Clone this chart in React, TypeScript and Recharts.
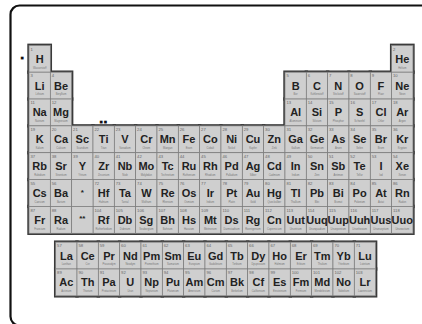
import { Scatter, ScatterChart, XAxis, YAxis } from "recharts";

// Elements in atomic order, with their German names
const SYMBOLS = [
  "H", "He",
  "Li", "Be", "B", "C", "N", "O", "F", "Ne",
  "Na", "Mg", "Al", "Si", "P", "S", "Cl", "Ar",
  "K", "Ca", "Sc", "Ti", "V", "Cr", "Mn", "Fe", "Co", "Ni", "Cu", "Zn", "Ga", "Ge", "As", "Se", "Br", "Kr",
  "Rb", "Sr", "Y", "Zr", "Nb", "Mo", "Tc", "Ru", "Rh", "Pd", "Ag", "Cd", "In", "Sn", "Sb", "Te", "I", "Xe",
  "Cs", "Ba", "La", "Ce", "Pr", "Nd", "Pm", "Sm", "Eu", "Gd", "Tb", "Dy", "Ho", "Er", "Tm", "Yb", "Lu",
  "Hf", "Ta", "W", "Re", "Os", "Ir", "Pt", "Au", "Hg", "Tl", "Pb", "Bi", "Po", "At", "Rn",
  "Fr", "Ra", "Ac", "Th", "Pa", "U", "Np", "Pu", "Am", "Cm", "Bk", "Cf", "Es", "Fm", "Md", "No", "Lr",
  "Rf", "Db", "Sg", "Bh", "Hs", "Mt", "Ds", "Rg", "Cn", "Uut", "Uuq", "Uup", "Uuh", "Uus", "Uuo",
];

const NAMES = [
  "Wasserstoff", "Helium",
  "Lithium", "Beryllium", "Bor", "Kohlenstoff", "Stickstoff", "Sauerstoff", "Fluor", "Neon",
  "Natrium", "Magnesium", "Aluminium", "Silicium", "Phosphor", "Schwefel", "Chlor", "Argon",
  "Kalium", "Calcium", "Scandium", "Titan", "Vanadium", "Chrom", "Mangan", "Eisen", "Cobalt", "Nickel",
  "Kupfer", "Zink", "Gallium", "Germanium", "Arsen", "Selen", "Brom", "Krypton",
  "Rubidium", "Strontium", "Yttrium", "Zirconium", "Niob", "Molybdän", "Technetium", "Ruthenium",
  "Rhodium", "Palladium", "Silber", "Cadmium", "Indium", "Zinn", "Antimon", "Tellur", "Iod", "Xenon",
  "Caesium", "Barium", "Lanthan", "Cer", "Praseodym", "Neodym", "Promethium", "Samarium", "Europium",
  "Gadolinium", "Terbium", "Dysprosium", "Holmium", "Erbium", "Thulium", "Ytterbium", "Lutetium",
  "Hafnium", "Tantal", "Wolfram", "Rhenium", "Osmium", "Iridium", "Platin", "Gold", "Quecksilber",
  "Thallium", "Blei", "Bismut", "Polonium", "Astat", "Radon",
  "Francium", "Radium", "Actinium", "Thorium", "Protactinium", "Uran", "Neptunium", "Plutonium",
  "Americium", "Curium", "Berkelium", "Californium", "Einsteinium", "Fermium", "Mendelevium",
  "Nobelium", "Lawrencium",
  "Rutherfordium", "Dubnium", "Seaborgium", "Bohrium", "Hassium", "Meitnerium", "Darmstadtium",
  "Roentgenium", "Copernicium", "Ununtrium", "Ununquadium", "Ununpentium", "Ununhexium",
  "Ununseptium", "Ununoctium",
];

// last atomic number of each period
const PERIOD_ENDS = [2, 10, 18, 36, 54, 86, 118];
// column where the La/Ac block starts (in cell units)
const F_BLOCK_START = 1.25;
const F_BLOCK_ROW = 7.33;

// placeholder cells in group 3 and loose markers
const PLACEHOLDERS = [
  { label: "*", period: 6 },
  { label: "**", period: 7 },
];
const MARKERS = [
  { label: "■", col: -0.3, row: 0.47 },
  { label: "■■", col: 3.5, row: 2.85 },
];

type Cell = { x: number; y: number; num?: number; symbol: string; name?: string };

function layout(): Cell[] {
  const cells: Cell[] = [];
  let start = 1;
  PERIOD_ENDS.forEach((end, p) => {
    for (let z = start; z <= end; z++) {
      const i = z - start;
      let col = 0;
      let row = p;
      if (p === 0) col = z === 1 ? 0 : 17;
      else if (p < 3) col = i < 2 ? i : i + 10;
      else if (p < 5) col = i;
      else if (i < 2) col = i;
      else if (i <= 16) {
        col = F_BLOCK_START + (i - 2);
        row = F_BLOCK_ROW + (p - 5);
      } else col = i - 14;
      cells.push({ x: col + 0.5, y: row + 0.5, num: z, symbol: SYMBOLS[z - 1], name: NAMES[z - 1] });
    }
    start = end + 1;
  });
  PLACEHOLDERS.forEach((ph) => cells.push({ x: 2.5, y: ph.period - 0.5, symbol: ph.label }));
  return cells;
}

const CELLS = layout();
const MARKER_DATA = MARKERS.map((m) => ({ x: m.col, y: m.row, symbol: m.label }));

const WIDTH = 422;
const HEIGHT = 324;
const MARGIN = { top: 5.05, right: 0.5, bottom: 4.8, left: 2.34 };
const X_DOMAIN = [-1.25, 18.4];
const Y_DOMAIN = [-1.5, 10.2];
const CELL_W = (WIDTH - MARGIN.left - MARGIN.right) / (X_DOMAIN[1] - X_DOMAIN[0]);
const CELL_H = (HEIGHT - MARGIN.top - MARGIN.bottom) / (Y_DOMAIN[1] - Y_DOMAIN[0]);

const FONT = "'Liberation Sans', Arial, sans-serif";

function OutlineShape(props: any) {
  const { cx, cy } = props;
  return (
    <rect
      x={cx - CELL_W / 2}
      y={cy - CELL_H / 2}
      width={CELL_W}
      height={CELL_H}
      fill="#3a3a3a"
      stroke="#3a3a3a"
      strokeWidth={3.4}
    />
  );
}

function ElementShape(props: any) {
  const { cx, cy, payload } = props;
  const left = cx - CELL_W / 2;
  const top = cy - CELL_H / 2;
  const placeholder = payload.num === undefined;
  return (
    <g fontFamily={FONT}>
      <rect x={left} y={top} width={CELL_W} height={CELL_H} fill="#cfcfcf" stroke="#7c7c7c" strokeWidth={0.7} />
      {!placeholder && (
        <text x={left + 1.4} y={top + 5.2} fontSize={4.2} fill="#666">
          {payload.num}
        </text>
      )}
      <text
        x={cx}
        y={top + (placeholder ? 15 : 17.4)}
        textAnchor="middle"
        fontSize={placeholder ? 8 : 11}
        fontWeight="bold"
        fill="#222"
      >
        {payload.symbol}
      </text>
      {!placeholder && (
        <text x={cx} y={top + 23.3} textAnchor="middle" fontSize={2.6} fill="#777">
          {payload.name}
        </text>
      )}
    </g>
  );
}

function MarkerShape(props: any) {
  const { cx, cy, payload } = props;
  return (
    <text
      x={cx}
      y={cy + 1.3}
      textAnchor="middle"
      fontFamily="'DejaVu Sans', sans-serif"
      fontSize={3.6}
      fill="#111"
      letterSpacing={0.8}
    >
      {payload.symbol}
    </text>
  );
}

export default function App() {
  return (
    <div style={{ position: "absolute", left: 0, top: 0, width: WIDTH, height: HEIGHT, background: "#fff", overflow: "hidden" }}>
      <svg width={WIDTH} height={HEIGHT} style={{ position: "absolute", left: 0, top: 0 }}>
        <rect x={10.5} y={5.5} width={450} height={320} rx={9} fill="none" stroke="#111" strokeWidth={2.2} />
      </svg>
      <div style={{ position: "absolute", left: 0, top: 0 }}>
        <ScatterChart width={WIDTH} height={HEIGHT} margin={MARGIN}>
          <XAxis type="number" dataKey="x" domain={X_DOMAIN} hide />
          <YAxis type="number" dataKey="y" domain={Y_DOMAIN} reversed hide />
          <Scatter data={CELLS} shape={OutlineShape} isAnimationActive={false} />
          <Scatter data={CELLS} shape={ElementShape} isAnimationActive={false} />
          <Scatter data={MARKER_DATA} shape={MarkerShape} isAnimationActive={false} />
        </ScatterChart>
      </div>
    </div>
  );
}
